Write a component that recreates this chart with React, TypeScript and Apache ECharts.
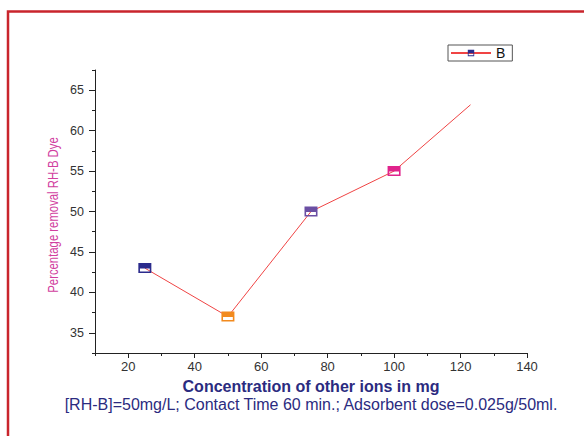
import React, { useEffect, useRef } from "react";
import * as echarts from "echarts";

const concentrations = [25, 50, 75, 100, 123];
const removal = [43, 37, 50, 55, 63.2];
const markerColors = ["#2b2b8c", "#f28a1e", "#6b4fa3", "#e0238c", "none"];
const xMajorTicks = [20, 40, 60, 80, 100, 120, 140];
const xMinorTicks = [10, 30, 50, 70, 90, 110, 130];
const yMajorTicks = [35, 40, 45, 50, 55, 60, 65];
const yMinorTicks = [32.5, 37.5, 42.5, 47.5, 52.5, 57.5, 62.5, 67.5];

const SYMBOL = "path://M0,0H13V10H0Z M1.6,5.4V8.4H11.4V5.4Z";

export default function App() {
  const ref = useRef<HTMLDivElement>(null);
  useEffect(() => {
    document.body.style.margin = "0";
    const chart = echarts.init(ref.current!, null, { renderer: "svg" });
    const font = "Liberation Sans, Arial, sans-serif";
    const data = concentrations.map((x, i) => ({
      value: [x, removal[i]],
      symbol: markerColors[i] === "none" ? "none" : SYMBOL,
      itemStyle: { color: markerColors[i] === "none" ? "#2b2b8c" : markerColors[i] },
    }));
    chart.setOption({
      animation: false,
      backgroundColor: "#ffffff",
      textStyle: { fontFamily: font },
      grid: { left: 95, right: 57, top: 70, bottom: 83 },
      legend: {
        left: 448,
        top: 45,
        orient: "horizontal",
        itemWidth: 40,
        itemHeight: 8,
        itemGap: 5,
        padding: [1, 7, 1, 2],
        borderColor: "#555555",
        borderWidth: 1,
        textStyle: { fontSize: 14, color: "#111", fontFamily: font },
        data: ["B"],
      },
      xAxis: [
        {
          type: "value",
          min: 10,
          max: 140,
          position: "bottom",
          name: "Concentration of other ions in mg",
          nameLocation: "middle",
          nameGap: 25,
          nameTextStyle: { fontSize: 16, lineHeight: 16, fontWeight: "bold", color: "#2b2b80", fontFamily: font },
          axisLine: { show: true, lineStyle: { color: "#222", width: 1 } },
          axisTick: { show: true, length: 5, customValues: xMajorTicks, lineStyle: { color: "#222" } },
          axisLabel: { show: true, customValues: xMajorTicks, margin: 7, fontSize: 13, color: "#333", fontFamily: font },
          splitLine: { show: false },
        },
        {
          type: "value",
          min: 10,
          max: 140,
          position: "bottom",
          axisLine: { show: false },
          axisTick: { show: true, length: 3, customValues: xMinorTicks, lineStyle: { color: "#222" } },
          axisLabel: { show: false },
          splitLine: { show: false },
        },
      ],
      yAxis: [
        {
          type: "value",
          min: 32.5,
          max: 67.5,
          position: "left",
          axisLine: { show: true, lineStyle: { color: "#222", width: 1 } },
          axisTick: { show: true, length: 6, customValues: yMajorTicks, lineStyle: { color: "#222" } },
          axisLabel: { show: true, customValues: yMajorTicks, margin: 11, fontSize: 12.5, color: "#333", fontFamily: font },
          splitLine: { show: false },
        },
        {
          type: "value",
          min: 32.5,
          max: 67.5,
          position: "left",
          axisLine: { show: false },
          axisTick: { show: true, length: 3, customValues: yMinorTicks, lineStyle: { color: "#222" } },
          axisLabel: { show: false },
          splitLine: { show: false },
        },
      ],
      graphic: [
        {
          type: "rect",
          shape: { x: 8, y: 11.5, width: 620, height: 500 },
          style: { fill: "none", stroke: "#c9252c", lineWidth: 2.5 },
          silent: true,
        },
        {
          type: "text",
          x: 53,
          y: 215,
          rotation: Math.PI / 2,
          scaleX: 0.81,
          style: {
            text: "Percentage removal RH-B Dye",
            fontSize: 14,
            fontFamily: font,
            fill: "#d13f9f",
            align: "center",
            verticalAlign: "middle",
          },
        },
        {
          type: "text",
          x: 311,
          y: 404,
          style: {
            text: "[RH-B]=50mg/L; Contact Time 60 min.; Adsorbent dose=0.025g/50ml.",
            fontSize: 16,
            lineHeight: 16,
            fontFamily: font,
            fill: "#2b2b80",
            align: "center",
            verticalAlign: "middle",
          },
        },
      ],
      series: [
        {
          name: "B",
          type: "line",
          xAxisIndex: 0,
          yAxisIndex: 0,
          data,
          symbol: SYMBOL,
          symbolSize: [13, 10],
          itemStyle: { color: "#2b2b8c", borderWidth: 0 },
          lineStyle: { color: "#f04444", width: 1 },
          clip: false,
          z: 3,
        },
      ],
    });
    return () => chart.dispose();
  }, []);
  return <div ref={ref} style={{ width: 584, height: 436 }} />;
}
